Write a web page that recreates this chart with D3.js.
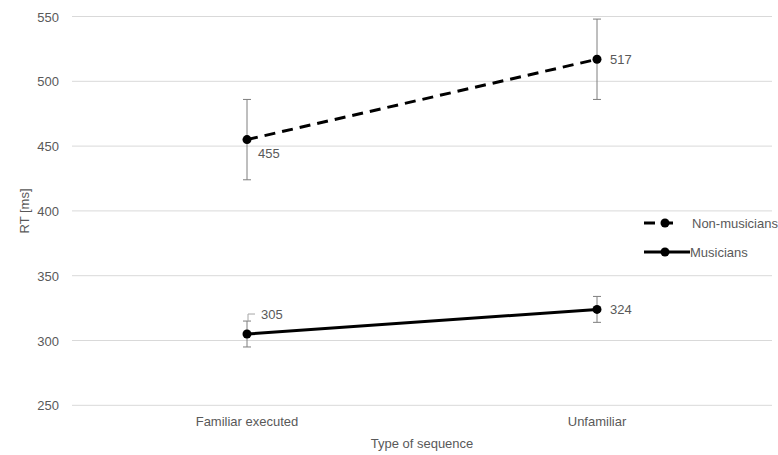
<!DOCTYPE html>
<html><head><meta charset="utf-8">
<script src="https://cdn.jsdelivr.net/npm/d3@7"></script>
<style>body{margin:0;background:#fff}svg text{font-family:"Liberation Sans",Arial,sans-serif;fill:#595959}</style>
</head><body><svg id="c" width="778" height="455"></svg>
<script>
const categories = ["Familiar executed", "Unfamiliar"];
const seriesNames = ["Non-musicians", "Musicians"];
const nonMusicians = [455, 517];
const nonMusiciansErr = [31, 31];
const musicians = [305, 324];
const musiciansErr = [10, 10];
const yTicks = [250, 300, 350, 400, 450, 500, 550];

const svg = d3.select("#c");
const x = d3.scaleBand().domain(categories).range([72, 772]).padding(0);
const y = d3.scaleLinear().domain([250, 550]).range([405.3, 16.5]);
const cx = c => x(c) + x.bandwidth() / 2;

// grid
svg.append("g").selectAll("line").data(yTicks).join("line")
  .attr("x1", 72).attr("x2", 772)
  .attr("y1", d => y(d)).attr("y2", d => y(d))
  .attr("stroke", "#d9d9d9").attr("stroke-width", 1);

// y axis labels
const yAxis = d3.axisLeft(y).tickValues(yTicks).tickSize(0).tickPadding(0);
const gy = svg.append("g").attr("transform", "translate(59,0)").call(yAxis);
gy.select(".domain").remove();
gy.selectAll("text").style("font-size", "13px").attr("fill", "#595959").attr("dy", "0.35em");

// x axis labels
const xAxis = d3.axisBottom(x).tickSize(0).tickPadding(0);
const gx = svg.append("g").attr("transform", "translate(0,417)").call(xAxis);
gx.select(".domain").remove();
gx.selectAll("text").style("font-size", "13px").attr("fill", "#595959");

svg.append("text").attr("x", 422).attr("y", 448).attr("text-anchor", "middle")
  .style("font-size", "13px").text("Type of sequence");
svg.append("text").attr("transform", "translate(29,211) rotate(-90)").attr("text-anchor", "middle")
  .style("font-size", "13px").text("RT [ms]");

const series = [
  {name: seriesNames[0], vals: nonMusicians, err: nonMusiciansErr, dash: "11,7"},
  {name: seriesNames[1], vals: musicians, err: musiciansErr, dash: null}
];

series.forEach(s => {
  const pts = categories.map((c, i) => ({c, v: s.vals[i], e: s.err[i]}));
  // error bars
  const eb = svg.append("g").attr("stroke", "#7f7f7f").attr("stroke-width", 1);
  pts.forEach(p => {
    const X = cx(p.c);
    eb.append("line").attr("x1", X).attr("x2", X).attr("y1", y(p.v + p.e)).attr("y2", y(p.v - p.e));
    eb.append("line").attr("x1", X - 4).attr("x2", X + 4).attr("y1", y(p.v + p.e)).attr("y2", y(p.v + p.e));
    eb.append("line").attr("x1", X - 4).attr("x2", X + 4).attr("y1", y(p.v - p.e)).attr("y2", y(p.v - p.e));
  });
  const line = d3.line().x(p => cx(p.c)).y(p => y(p.v));
  svg.append("path").datum(pts).attr("d", line).attr("fill", "none")
    .attr("stroke", "#000").attr("stroke-width", 3)
    .attr("stroke-dasharray", s.dash);
  svg.append("g").selectAll("circle").data(pts).join("circle")
    .attr("cx", p => cx(p.c)).attr("cy", p => y(p.v)).attr("r", 4.5).attr("fill", "#000");
});

// data labels
const labelFs = "13px";
// 455 below-right
svg.append("text").attr("x", cx(categories[0]) + 11).attr("y", y(nonMusicians[0]) + 18)
  .style("font-size", labelFs).text(nonMusicians[0]);
svg.append("text").attr("x", cx(categories[1]) + 13).attr("y", y(nonMusicians[1]) + 5)
  .style("font-size", labelFs).text(nonMusicians[1]);
svg.append("text").attr("x", cx(categories[1]) + 13).attr("y", y(musicians[1]) + 5)
  .style("font-size", labelFs).text(musicians[1]);
// 305 with leader
const lx = cx(categories[0]) + 1, ly = y(musicians[0]) - 20;
svg.append("path").attr("d", `M${lx},${y(musicians[0] + musiciansErr[0])}V${ly}H${lx + 7}`)
  .attr("fill", "none").attr("stroke", "#a6a6a6").attr("stroke-width", 1);
svg.append("text").attr("x", lx + 13).attr("y", ly + 5)
  .style("font-size", labelFs).text(musicians[0]);

// legend
const lg = svg.append("g");
[[seriesNames[0], "11,7", 223, 680, 692], [seriesNames[1], null, 252, 690, 690]].forEach(([n, dash, ly2, end, tx]) => {
  lg.append("line").attr("x1", 644).attr("x2", end).attr("y1", ly2).attr("y2", ly2)
    .attr("stroke", "#000").attr("stroke-width", 3).attr("stroke-dasharray", dash);
  lg.append("circle").attr("cx", 665).attr("cy", ly2).attr("r", 4.5).attr("fill", "#000");
  lg.append("text").attr("x", tx).attr("y", ly2).attr("dy", "0.35em").style("font-size", "13px").text(n);
});
</script></body></html>
